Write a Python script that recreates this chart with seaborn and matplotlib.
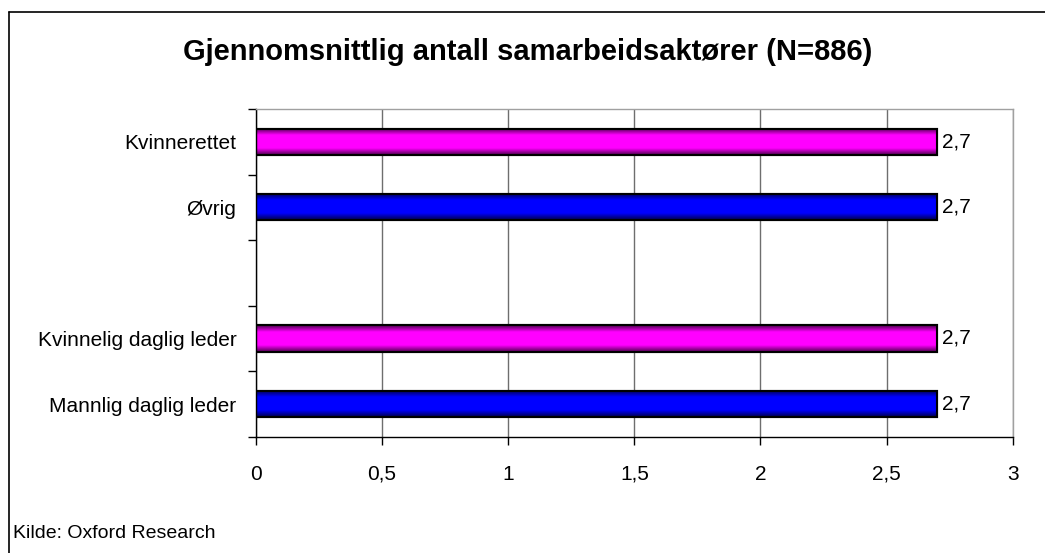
import numpy as np
import pandas as pd
import matplotlib
matplotlib.use("Agg")
import matplotlib.pyplot as plt
import seaborn as sns
from matplotlib.lines import Line2D
from matplotlib.colors import LinearSegmentedColormap

# --- Data ---
categories = ["Kvinnerettet", "Øvrig", "", "Kvinnelig daglig leder", "Mannlig daglig leder"]
values = [2.7, 2.7, np.nan, 2.7, 2.7]
bar_colors = ["#ff00ff", "#0000ff", "#ffffff", "#ff00ff", "#0000ff"]
value_labels = ["2,7", "2,7", "", "2,7", "2,7"]
x_ticks = [0, 0.5, 1, 1.5, 2, 2.5, 3]
x_tick_labels = ["0", "0,5", "1", "1,5", "2", "2,5", "3"]

df = pd.DataFrame({"kategori": categories, "verdi": values})

sns.set_style("white")
plt.rcParams["font.family"] = ["Liberation Sans", "DejaVu Sans"]
plt.rcParams["text.color"] = "black"
plt.rcParams["xtick.color"] = "black"
plt.rcParams["ytick.color"] = "black"

fig = plt.figure(figsize=(10.45, 5.53), dpi=100)
ax = fig.add_axes([0.245, 0.210, 0.724, 0.593])

sns.barplot(data=df, y="kategori", x="verdi", hue="kategori", palette=bar_colors,
            order=categories, orient="h", width=0.4, legend=False,
            edgecolor="black", linewidth=1.5, ax=ax)

# shade each bar darker at the top/bottom edge like the original
for patch in list(ax.patches):
    w = patch.get_width()
    if not np.isfinite(w) or w == 0:
        continue
    x0, y0 = patch.get_x(), patch.get_y()
    h = patch.get_height()
    idx = int(round(y0 + h / 2))
    rgb = matplotlib.colors.to_rgb(bar_colors[idx])
    dark = tuple(c * 0.3 for c in rgb)
    cmap = LinearSegmentedColormap.from_list("g", [dark, rgb, rgb, rgb, dark])
    grad = np.linspace(0, 1, 64).reshape(-1, 1)
    im = ax.imshow(grad, cmap=cmap, aspect="auto", extent=[x0, x0 + w, y0 + h, y0],
                   zorder=patch.get_zorder() + 0.1)
    im.set_clip_path(patch)
    ax.add_patch(plt.Rectangle((x0, y0), w, h, fill=False, edgecolor="black",
                               linewidth=1.5, zorder=patch.get_zorder() + 0.2))
    ax.text(x0 + w + 0.02, y0 + h / 2, value_labels[idx],
            va="center", ha="left", fontsize=15)

ax.set_xlim(0, 3)
ax.set_ylim(4.5, -0.5)
ax.set_xticks(x_ticks)
ax.set_xticklabels(x_tick_labels, fontsize=15)
ax.set_yticks(range(len(categories)))
ax.set_yticklabels(categories, fontsize=15)
ax.set_yticks(np.arange(-0.5, 5, 1), minor=True)
ax.tick_params(axis="y", which="major", left=False, length=0, pad=14)
ax.tick_params(axis="y", which="minor", left=True, length=6, width=1, color="black", direction="out")
ax.tick_params(axis="x", which="major", bottom=True, length=6, width=1, color="black",
               direction="out", pad=14)
ax.set_xlabel("")
ax.set_ylabel("")

ax.grid(axis="x", color="#6e6e6e", linewidth=1)
ax.set_axisbelow(True)
for side in ["left", "bottom"]:
    ax.spines[side].set_color("black")
    ax.spines[side].set_linewidth(1)
for side in ["top", "right"]:
    ax.spines[side].set_color("#a0a0a0")
    ax.spines[side].set_linewidth(1)

fig.text(0.505, 0.906, "Gjennomsnittlig antall samarbeidsaktører (N=886)",
         ha="center", va="center", fontsize=21, fontweight="bold")
fig.text(0.012, 0.036, "Kilde: Oxford Research", ha="left", va="center", fontsize=14)

# outer frame: left and top lines only
fig.add_artist(Line2D([0.0085, 0.0085], [0.0, 0.979], color="black", linewidth=1.2,
                      transform=fig.transFigure))
fig.add_artist(Line2D([0.0085, 1.0], [0.979, 0.979], color="black", linewidth=1.2,
                      transform=fig.transFigure))

fig.savefig("out.png", dpi=100)
